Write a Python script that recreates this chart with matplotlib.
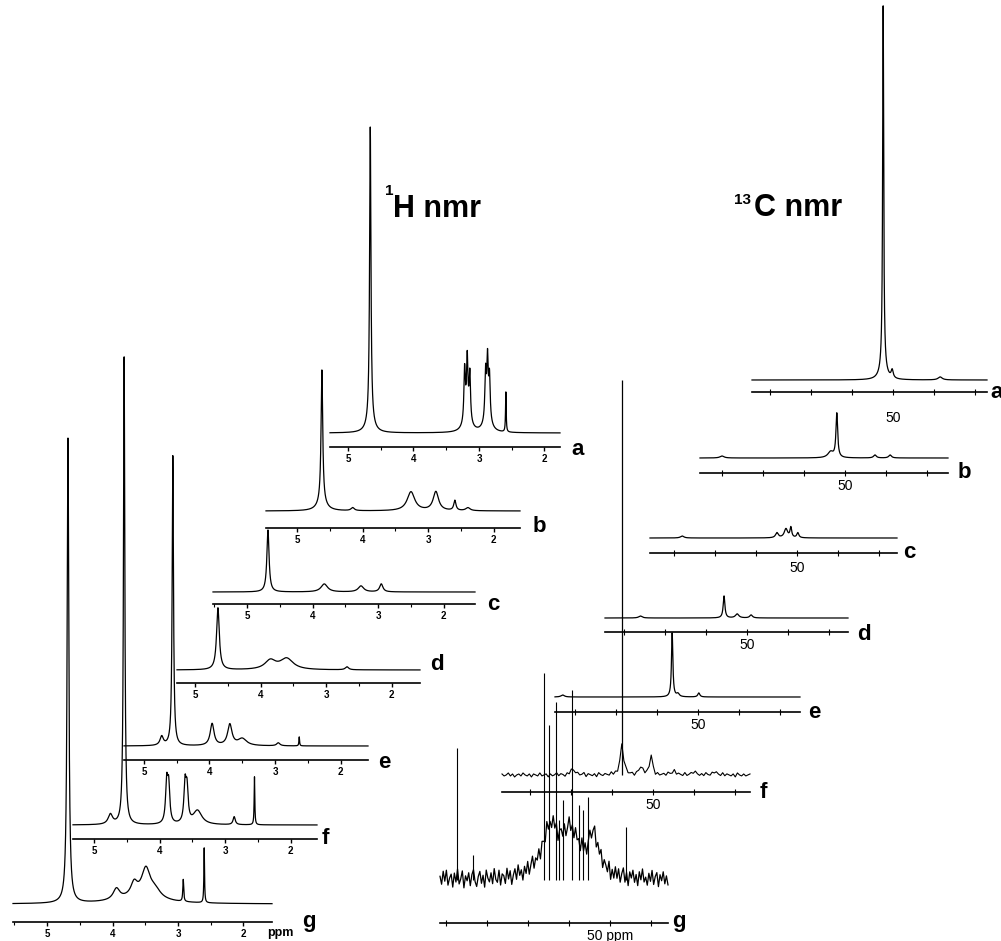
import numpy as np
import matplotlib.pyplot as plt

W, H = 1001, 941
plt.rcParams['font.family'] = ['Liberation Sans', 'DejaVu Sans']

# ---- 1H nmr peaks: (ppm, height, half width) ----
h1_a = [(4.66, 294, 0.012), (4.66, 12, 0.06), (3.22, 50, 0.012), (3.18, 52, 0.012), (3.14, 45, 0.012),
        (3.18, 22, 0.05), (2.90, 45, 0.012), (2.87, 52, 0.012), (2.84, 40, 0.012), (2.87, 20, 0.05),
        (2.59, 40, 0.006)]
h1_b = [(4.62, 133, 0.015), (4.62, 8, 0.08), (4.15, 3, 0.03), (3.26, 19, 0.07), (2.88, 19, 0.05),
        (2.59, 10, 0.02), (2.39, 3, 0.04)]
h1_c = [(4.68, 62, 0.02), (3.82, 8, 0.06), (3.26, 6, 0.05), (2.95, 8, 0.03)]
h1_d = [(4.65, 62, 0.025), (3.85, 9, 0.1), (3.60, 11, 0.12), (2.68, 3, 0.03)]
h1_e = [(4.56, 290, 0.012), (4.73, 9, 0.03), (3.96, 22, 0.035), (3.69, 21, 0.04), (3.50, 7, 0.08),
        (2.95, 3, 0.03), (2.63, 9, 0.006)]
h1_f = [(4.54, 468, 0.012), (4.75, 10, 0.04), (3.89, 40, 0.02), (3.86, 36, 0.02), (3.61, 38, 0.02),
        (3.58, 32, 0.02), (3.42, 14, 0.08), (2.86, 8, 0.02), (2.55, 48, 0.006)]
h1_g = [(4.68, 465, 0.015), (3.94, 11, 0.06), (3.67, 13, 0.06), (3.49, 28, 0.08), (3.35, 8, 0.1),
        (3.60, 6, 0.4), (2.92, 22, 0.008), (2.60, 55, 0.006)]
h1_peaks = [h1_a, h1_b, h1_c, h1_d, h1_e, h1_f, h1_g]
h1_ticks = [5, 4, 3, 2]

# ---- 13C nmr peaks: (ppm, height, half width) ----
c13_a = [(52.4, 360, 0.15), (52.4, 14, 0.8), (50.2, 8, 0.3), (38.5, 3, 0.6)]
c13_b = [(52.0, 44, 0.25), (53.5, 6, 0.8), (42.7, 3, 0.4), (39.0, 3, 0.4), (80.0, 2, 0.6)]
c13_c = [(54.9, 5, 0.4), (52.7, 9, 0.5), (51.5, 10, 0.25), (49.8, 5, 0.3), (78.0, 2, 0.5)]
c13_d = [(55.6, 22, 0.25), (52.4, 4, 0.5), (49.0, 3, 0.4), (76.0, 2, 0.5)]
c13_e = [(56.3, 64, 0.2), (54.9, 3, 0.4), (49.8, 4, 0.3), (83.0, 2, 0.5)]
c13_f = [(57.6, 30, 0.5), (50.5, 20, 0.4), (53.0, 8, 0.5), (45.0, 5, 0.5), (40.0, 4, 0.5),
         (35.0, 4, 0.5), (69.5, 5, 0.8)]
c13_f_lines = [(57.6, 395)]
c13_g = [(64.5, 48, 2.5), (59.5, 42, 2.5), (54.0, 40, 1.5)]
c13_g_lines = [(87.3, 132), (66.1, 207), (64.9, 155), (63.2, 178), (61.5, 80), (59.3, 190),
               (57.5, 75), (56.5, 70), (55.4, 83), (46.1, 53), (83.5, 25), (62.5, 60)]
c13_f_noise = [1, -1, 0, 2, -1, 1, -2, 0, 1, -1, 2, 0, -1, 1, -2, 1, 0, -1, 2, -1, 0, 1, -2, 1, -1,
               0, 2, -1, 1, 0, -2, 1, -1, 2, 0, -1, 1, -1, 0, 2, -2, 1, 0, -1, 1, -2, 2, 0, -1, 1,
               0, -1, 2, -1, 1, -2, 0, 1, -1, 2, -1, 0, 1, -2, 1, 0, -1, 2, -1, 1, -1, 0, 2, -2, 1,
               -1, 0, 1, -1, 2, 0, -2, 1, -1, 1, 0, -1, 2, -1, 0, 1, -2, 1, 0, -1, 1, -1, 2, 0, -1,
               1, -2, 1, 0, -1, 2, -1, 1, 0, -1, 1, -2, 2, 0, -1, 1, -1, 0, 1]
c13_g_noise = [3, -5, 8, -2, 9, -6, 1, 5, -8, 6, -3, 10, -5, 0, 8, -9, 3, -2, 6, -7, 4, 9, -3, -8,
               2, 7, -5, 3, -9, 8, 0, -4, 5, -6, 9, -2, -5, 7, -8, 3, 1, -7, 8, -3, 5, -9, 0, 6,
               -5, 9, -2, 3, -8, 5, -3, 8, -6, 2, 9, -5, 3, -2, 6, -8, 5, 0, -6, 9, -3, 2, -5, 8,
               -2, 6, -9, 3, 5, -3, 8, -6, 0, 9, -5, 2, -8, 6, -2, 3, -6, 9, -3, 5, -8, 2, 8, -5,
               0, 6, -9, 3, -2, 8, -6, 5, 2, -3, 9, -8, 3, -5, 7, -4, 6, -7, 2, 8, -6, 4, -9, 5,
               -1, 7, -5, 3, -8, 6, -2, 9, -4, 1, -7, 5, -3, 8, -6, 2, 6, -8, 4, -2, 7, -5, 3, -6]
letters = ['a', 'b', 'c', 'd', 'e', 'f', 'g']

# layout in pixels: x of 5 ppm, left, right, trace baseline, scale line
h1_layout = [(348, 330, 560, 433, 447), (297, 266, 520, 511, 528), (247, 213, 475, 592, 604),
             (195, 177, 420, 670, 683), (144, 124, 368, 746, 760), (94, 73, 317, 825, 839),
             (47, 13, 272, 904, 922)]
h1_letter_pos = [(571, 449), (533, 527), (487, 604), (430, 665), (378, 763), (322, 839), (302, 921)]
# x of 50 ppm, left, right, baseline, scale, label pad
c13_layout = [(893, 752, 987, 380, 392, 12), (845, 700, 948, 458, 473, 2), (797, 650, 897, 538, 553, 4),
              (747, 605, 848, 618, 632, 2), (698, 555, 800, 697, 712, 2), (653, 502, 750, 775, 792, 2),
              (610, 440, 668, 880, 923, 2)]
c13_letter_pos = [(990, 393), (958, 472), (903, 553), (857, 634), (808, 713), (760, 793), (672, 921)]


def lor(x, peaks):
    y = np.zeros_like(x)
    for p, h, w in peaks:
        y += h * w**2 / ((x - p)**2 + w**2)
    return y


fig = plt.figure(figsize=(W / 100, H / 100), dpi=100)
fig.patch.set_facecolor('white')


def panel(left, right, base, scale, xlim):
    ax = fig.add_axes([left / W, 1 - scale / H, (right - left) / W, 40 / H])
    gap = scale - base
    ax.set_xlim(*xlim)
    ax.set_ylim(-gap, 40 - gap)
    for s in ['top', 'left', 'right']:
        ax.spines[s].set_visible(False)
    ax.spines['bottom'].set_linewidth(1.2)
    ax.set_yticks([])
    ax.patch.set_visible(False)
    return ax


# 1H stack
k1 = 65.5
for peaks, (x5, l, r, b, s), lab, (lx, ly) in zip(h1_peaks, h1_layout, letters, h1_letter_pos):
    xlim = (5 + (x5 - l) / k1, 5 - (r - x5) / k1)
    ax = panel(l, r, b, s, xlim)
    x = np.linspace(xlim[0], xlim[1], 5000)
    ax.plot(x, lor(x, peaks), color='k', lw=0.9, clip_on=False)
    t = [v for v in h1_ticks if xlim[1] < v < xlim[0]]
    ax.set_xticks(t)
    ax.set_xticklabels([str(v) for v in t], fontweight='bold')
    ax.set_xticks([v + 0.5 for v in [1, 2, 3, 4, 5] if xlim[1] < v + 0.5 < xlim[0]], minor=True)
    ax.tick_params(axis='x', which='major', direction='out', length=3, width=1, pad=2, labelsize=7)
    ax.tick_params(axis='x', which='minor', direction='out', length=2, width=0.8)
    fig.text(lx / W, 1 - ly / H, lab, fontsize=16, fontweight='bold', ha='left', va='center')

fig.text(280 / W, 1 - 933 / H, 'ppm', fontsize=9, fontweight='bold', ha='center', va='center')

# 13C stack
k13 = 4.1
c13_smooth = [c13_a, c13_b, c13_c, c13_d, c13_e]
for i, ((x50, l, r, b, s, pad), lab, (lx, ly)) in enumerate(zip(c13_layout, letters, c13_letter_pos)):
    xlim = (50 + (x50 - l) / k13, 50 - (r - x50) / k13)
    ax = panel(l, r, b, s, xlim)
    if i < 5:
        x = np.linspace(xlim[0], xlim[1], 5000)
        ax.plot(x, lor(x, c13_smooth[i]), color='k', lw=0.9, clip_on=False)
    elif i == 5:
        x = np.linspace(xlim[0], xlim[1], len(c13_f_noise))
        ax.plot(x, np.array(c13_f_noise, float) + lor(x, c13_f), color='k', lw=0.8, clip_on=False)
        ax.vlines([p for p, h in c13_f_lines], 0, [h for p, h in c13_f_lines], color='k', lw=0.9,
                  clip_on=False)
    else:
        x = np.linspace(xlim[0], xlim[1], len(c13_g_noise))
        ax.plot(x, np.array(c13_g_noise, float) + lor(x, c13_g), color='k', lw=0.9, clip_on=False)
        ax.vlines([p for p, h in c13_g_lines], 0, [h for p, h in c13_g_lines], color='k', lw=0.8,
                  clip_on=False)
    t = [v for v in range(20, 100, 10) if xlim[1] < v < xlim[0]]
    ax.set_xticks(t)
    ax.set_xticklabels([('50 ppm' if i == 6 else '50') if v == 50 else '' for v in t])
    ax.tick_params(axis='x', direction='inout', length=4, width=0.8, pad=pad, labelsize=10)
    fig.text(lx / W, 1 - ly / H, lab, fontsize=16, fontweight='bold', ha='left', va='center')

# titles
fig.text(385 / W, 1 - 184 / H, '1', fontsize=11, fontweight='bold', ha='left', va='top')
fig.text(393 / W, 1 - 217 / H, 'H nmr', fontsize=22, fontweight='bold', ha='left', va='baseline')
fig.text(734 / W, 1 - 193 / H, '13', fontsize=11, fontweight='bold', ha='left', va='top')
fig.text(754 / W, 1 - 216 / H, 'C nmr', fontsize=22, fontweight='bold', ha='left', va='baseline')

fig.savefig('out.png', dpi=100, facecolor='white')
